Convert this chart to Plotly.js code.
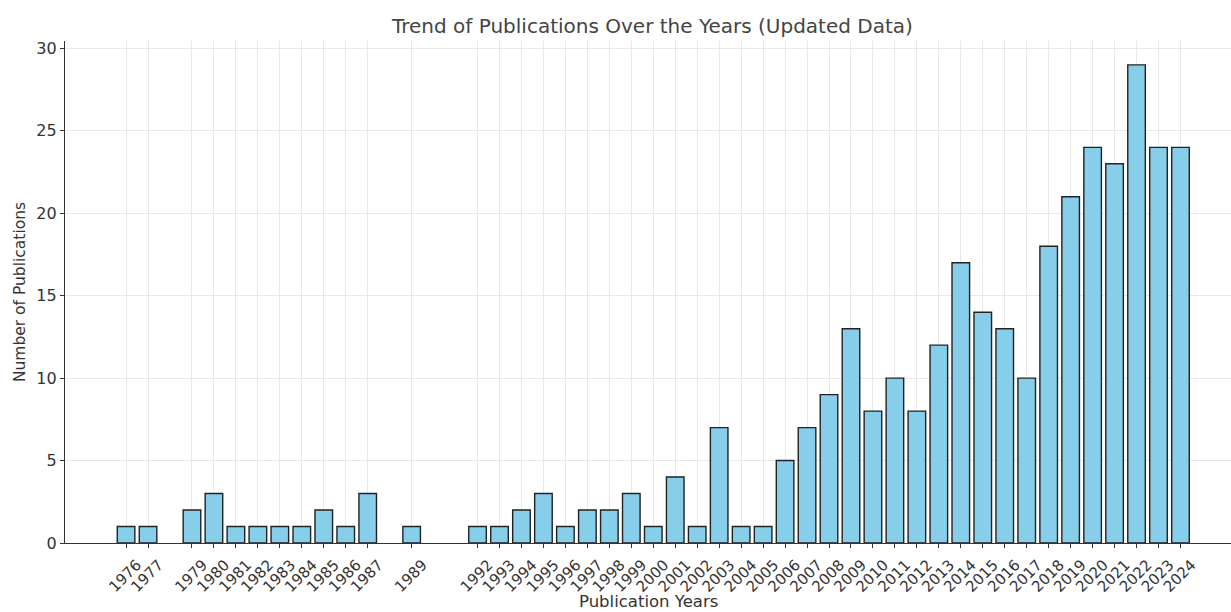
<!DOCTYPE html>
<html>
<head>
<meta charset="utf-8">
<script src="https://cdn.plot.ly/plotly-3.0.1.min.js"></script>
<style>html,body{margin:0;padding:0;background:#fff;}#chart{width:1231px;height:612px;}</style>
</head>
<body>
<div id="chart"></div>
<script>
const years = [1976,1977,1979,1980,1981,1982,1983,1984,1985,1986,1987,1989,1992,1993,1994,1995,1996,1997,1998,1999,2000,2001,2002,2003,2004,2005,2006,2007,2008,2009,2010,2011,2012,2013,2014,2015,2016,2017,2018,2019,2020,2021,2022,2023,2024];
const counts = [1,1,2,3,1,1,1,1,2,1,3,1,1,1,2,3,1,2,2,3,1,4,1,7,1,1,5,7,9,13,8,10,8,12,17,14,13,10,18,21,24,23,29,24,24];
const yTicks = [0,5,10,15,20,25,30];
const chartTitle = "Trend of Publications Over the Years (Updated Data)";
const xTitle = "Publication Years";
const yTitle = "Number of Publications";

const font = "DejaVu Sans, sans-serif";
Plotly.newPlot("chart", [{
  type: "bar",
  x: years,
  y: counts,
  width: 0.8,
  marker: {color: "#87CEEB", line: {color: "#222", width: 1.4}},
  hoverinfo: "x+y"
}], {
  width: 1231, height: 612,
  margin: {l: 65, r: 0, t: 41, b: 69},
  paper_bgcolor: "#fff", plot_bgcolor: "#fff",
  showlegend: false,
  title: {text: chartTitle, font: {family: font, size: 20, color: "#444"}, x: 0.53, xanchor: "center", y: 0.957, yanchor: "middle"},
  xaxis: {
    range: [1973.22, 2026.3],
    tickmode: "array", tickvals: years, ticktext: years.map(String),
    tickangle: -45,
    ticklabelshift: 11,
    ticklabelstandoff: 2,
    tickfont: {family: font, size: 15, color: "#333"},
    showgrid: true, gridcolor: "#e8e8e8", gridwidth: 1,
    showline: true, linecolor: "#333", linewidth: 1.2,
    ticks: "outside", ticklen: 4, tickcolor: "#333",
    zeroline: false, automargin: false
  },
  yaxis: {
    range: [0, 30.45],
    tickmode: "array", tickvals: yTicks,
    tickfont: {family: font, size: 16, color: "#333"},
    showgrid: true, gridcolor: "#e8e8e8", gridwidth: 1,
    showline: true, linecolor: "#333", linewidth: 1.2,
    ticks: "outside", ticklen: 4, tickcolor: "#333",
    zeroline: false, automargin: false,
    title: {text: yTitle, font: {family: font, size: 15.5, color: "#333"}, standoff: 6}
  },
  annotations: [{
    text: xTitle, xref: "paper", yref: "paper", x: 0.5, y: 0,
    xanchor: "center", yanchor: "middle", yshift: -58, showarrow: false,
    font: {family: font, size: 16.5, color: "#333"}
  }],
  bargap: 0
}, {displayModeBar: false, staticPlot: true});
</script>
</body>
</html>
